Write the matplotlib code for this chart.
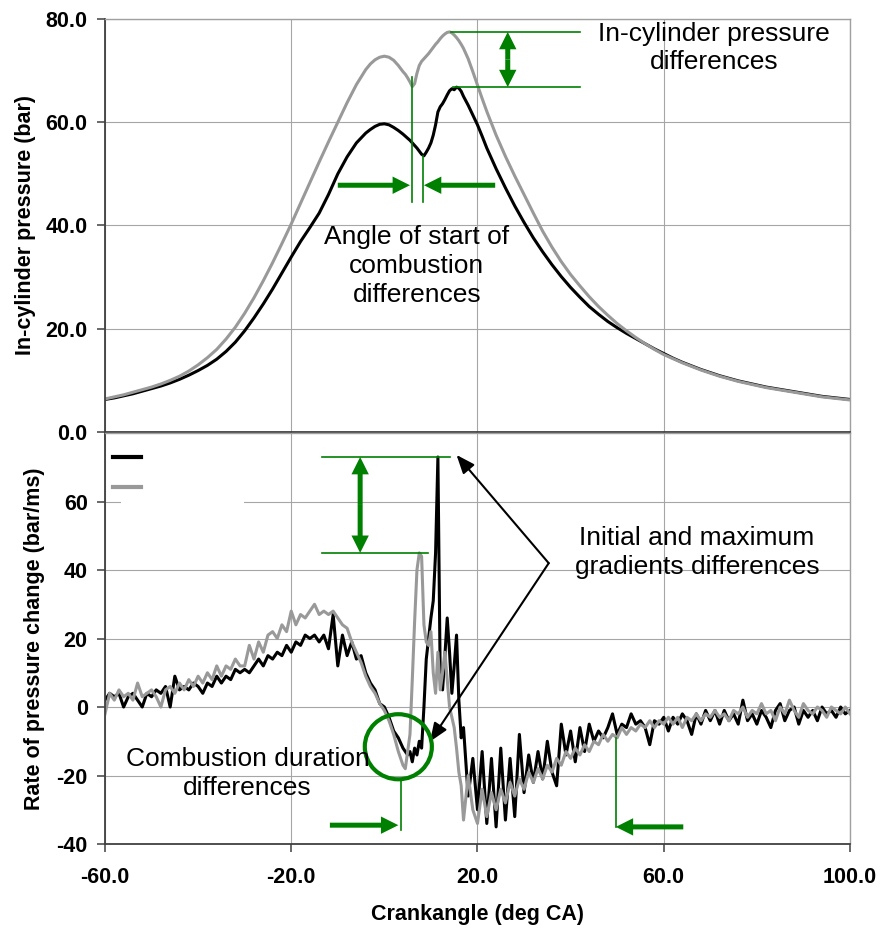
import numpy as np
import matplotlib
matplotlib.use('Agg')
import matplotlib.pyplot as plt
from matplotlib.patches import Ellipse, Rectangle
from matplotlib.lines import Line2D

plt.rcParams['font.family'] = ['Liberation Sans', 'DejaVu Sans']

# ---- in-cylinder pressure (bar) ----
p_angle = np.concatenate([np.arange(-60, -4, 2), np.arange(-4, 4, 1),
                          np.arange(4, 17, 0.5), np.arange(17, 22, 1),
                          np.arange(22, 101, 2)])
p_black = [6.3, 6.6, 7.0, 7.4, 7.9, 8.4, 8.9, 9.5, 10.2, 11.0,
           11.9, 12.9, 14.1, 15.6, 17.4, 19.6, 22.1, 24.8, 27.7, 30.8,
           33.9, 36.9, 39.6, 42.4, 46.0, 50.0, 53.3, 56.0,
           57.9, 58.6, 59.2, 59.6, 59.7, 59.5, 59.0, 58.4,
           57.7, 57.3, 56.9, 56.5, 56.0, 55.5, 55.0, 54.4, 53.8, 53.5,
           54.2, 55.0, 56.0, 57.5, 59.5, 62.0, 63.0, 63.6, 64.4, 65.3,
           66.1, 66.5, 66.3, 66.8, 66.6, 66.0,
           65.0, 63.3, 61.4, 59.5, 57.3,
           55.0, 51.0, 47.3, 43.8, 40.6, 37.6, 34.9, 32.4, 30.1, 28.0,
           26.1, 24.3, 22.8, 21.4, 20.2, 19.1, 18.1, 17.1, 16.1, 15.2,
           14.3, 13.5, 12.8, 12.1, 11.5, 10.9, 10.4, 9.9, 9.5, 9.1,
           8.7, 8.4, 8.1, 7.8, 7.5, 7.2, 6.9, 6.7, 6.5, 6.3]
p_grey = [6.4, 6.8, 7.2, 7.7, 8.2, 8.7, 9.3, 10.0, 10.8, 11.8,
          13.0, 14.4, 16.0, 18.0, 20.3, 23.0, 26.0, 29.3, 32.8, 36.5,
          40.3, 44.3, 48.3, 52.3, 56.2, 60.0, 63.8, 67.3,
          70.2, 71.3, 72.1, 72.6, 72.8, 72.6, 72.0, 71.0,
          69.8, 69.3, 68.6, 67.8, 66.9, 67.5, 69.5, 71.0, 71.8, 72.3,
          72.8, 73.3, 73.9, 74.5, 75.1, 75.6, 76.2, 76.7, 77.1, 77.4,
          77.5, 77.3, 76.9, 76.4, 75.8, 75.1,
          74.3, 72.3, 69.8, 67.2, 64.6,
          62.1, 57.5, 53.4, 49.6, 46.0, 42.4, 38.9, 35.8, 33.0, 30.5,
          28.3, 26.2, 24.3, 22.6, 21.0, 19.6, 18.3, 17.1, 16.0, 15.0,
          14.2, 13.4, 12.7, 12.0, 11.4, 10.8, 10.3, 9.8, 9.4, 9.0,
          8.6, 8.3, 8.0, 7.7, 7.4, 7.1, 6.8, 6.6, 6.4, 6.2]

# ---- rate of pressure change (bar/ms) ----
r_angle = np.concatenate([np.arange(-60, 5, 1), np.arange(4.5, 17.5, 0.5),
                          np.arange(18, 101, 1)])
r_black = [2, 4, 3, 4, 0, 3, 4, 2, 0, 4,
           3, 5, 4, 6, 0, 9, 5, 6, 5, 7,
           6, 4, 7, 6, 9, 7, 9, 8, 11, 10,
           11, 10, 12, 14, 12, 15, 14, 16, 15, 18,
           16, 19, 18, 21, 20, 21, 19, 21, 17, 27,
           12, 21, 15, 19, 14, 15, 10, 7, 5, 1,
           0, -3, -7, -9, -12,
           -13, -14, -13, -16, -12, -14, -10, -12, 0, 14,
           20, 26, 31, 45, 73, 8, 5, 15, 26, 16,
           4, 12, 21, 2, -9, -6,
           -26, -15, -30, -13, -34, -15, -35, -12, -33, -15,
           -32, -8, -25, -14, -22, -13, -21, -10, -19, -23,
           -5, -14, -7, -16, -6, -13, -5, -10, -7, -9,
           -6, -2, -8, -5, -6, -2, -5, -4, -6, -11,
           -4, -5, -3, -7, -3, -5, -2, -4, -8, -2,
           -5, -1, -4, -1, -5, -1, -4, -2, -5, 2,
           -4, -2, -5, -1, -3, -6, -1, 1, -4, -1,
           0, -5, -1, -3, -1, -4, 0, -2, -1, -3,
           0, -2, -1]
r_grey = [-2, 4, 2, 5, 3, 4, 2, 7, 3, 4,
          5, 3, 0, 5, 6, 4, 7, 5, 8, 6,
          9, 7, 10, 8, 12, 9, 12, 11, 14, 12,
          12, 18, 14, 19, 16, 21, 22, 20, 24, 22,
          28, 24, 27, 26, 28, 30, 27, 28, 27, 28,
          26, 24, 23, 19, 16, 13, 9, 6, 4, 1,
          -1, -4, -8, -13, -17,
          -18, -13, -8, 8, 25, 40, 45, 44, 24, 19,
          18, 22, 10, 4, 16, 5, 10, 16, 8, 0,
          -3, -6, -12, -19, -23, -33,
          -20, -30, -34, -24, -32, -25, -30, -24, -28, -22,
          -26, -21, -24, -19, -22, -18, -21, -17, -19, -15,
          -17, -13, -15, -12, -14, -11, -13, -10, -11, -8,
          -10, -8, -9, -6, -8, -6, -7, -5, -6, -4,
          -6, -4, -5, -3, -5, -3, -6, -3, -4, -2,
          -4, -2, -3, -1, -3, -2, -4, -1, -2, 0,
          -3, -1, -2, 1, -2, -1, -4, 0, -2, 2,
          -1, -3, 1, -1, -2, 0, -1, -3, 0, -1,
          -2, 0, -2]

x_ticks = [-60, -20, 20, 60, 100]
p_ticks = [0, 20, 40, 60, 80]
r_ticks = [-40, -20, 0, 20, 40, 60]

GREEN = '#008000'
GREY = '#999999'
DARK = '#404040'


def style_axes(ax):
    ax.set_xlim(-60, 100)
    ax.set_xticks(x_ticks)
    ax.grid(True, color='#a6a6a6', lw=0.8)
    for side in ['left', 'bottom']:
        ax.spines[side].set_color(DARK)
        ax.spines[side].set_linewidth(1.3)
    for side in ['top', 'right']:
        ax.spines[side].set_color('#a0a0a0')
        ax.spines[side].set_linewidth(1.0)
    ax.tick_params(direction='out', length=5.5, width=1.1, color=DARK)
    ax.tick_params(axis='y', pad=7)
    ax.tick_params(axis='x', pad=11)


def block_arrow(ax, tail, tip):
    ax.annotate('', xy=tip, xytext=tail,
                arrowprops=dict(arrowstyle='simple,head_length=1.25,head_width=1.25,tail_width=0.36',
                                mutation_scale=10, color=GREEN, lw=0,
                                shrinkA=0, shrinkB=0))


def pointer(ax, tail, tip):
    ax.annotate('', xy=tip, xytext=tail,
                arrowprops=dict(arrowstyle='-|>,head_length=0.75,head_width=0.3',
                                mutation_scale=15, color='black', lw=1.5,
                                shrinkA=0, shrinkB=0))


fig = plt.figure(figsize=(8.83, 9.32), dpi=100)
ax1 = fig.add_axes([0.1189, 0.5365, 0.8437, 0.4431])
ax2 = fig.add_axes([0.1189, 0.0944, 0.8437, 0.4410])

# ---------- top: pressure ----------
style_axes(ax1)
ax1.plot(p_angle, p_black, color='black', lw=2.2)
ax1.plot(p_angle, p_grey, color=GREY, lw=2.2)
ax1.set_ylim(0, 80)
ax1.set_yticks(p_ticks, labels=[f'{v:.1f}' for v in p_ticks],
               fontsize=15.5, fontweight='bold')
ax1.tick_params(axis='x', labelbottom=False)
ax1.set_ylabel('In-cylinder pressure (bar)', fontsize=15.5, fontweight='bold')
ax1.yaxis.set_label_coords(-0.092, 0.5)

# peak pressure difference markers
g_peak, b_peak = max(p_grey), max(p_black)
ax1.plot([14.3, 42.0], [g_peak, g_peak], color=GREEN, lw=1.2)
ax1.plot([14.7, 42.0], [b_peak, b_peak], color=GREEN, lw=1.2)
mid = (g_peak + b_peak) / 2
block_arrow(ax1, (26.5, mid), (26.5, g_peak))
block_arrow(ax1, (26.5, mid), (26.5, b_peak))
ax1.text(70.8, 74.4, 'In-cylinder pressure\ndifferences', fontsize=19,
         ha='center', va='center', linespacing=1.25)

# start of combustion markers
ax1.plot([5.9, 5.9], [68.7, 44.5], color=GREEN, lw=1.2)
ax1.plot([8.2, 8.2], [53.5, 44.5], color=GREEN, lw=1.2)
block_arrow(ax1, (-10.0, 47.8), (5.5, 47.8))
block_arrow(ax1, (23.8, 47.8), (8.5, 47.8))
ax1.text(6.95, 32.2, 'Angle of start of\ncombustion\ndifferences', fontsize=19,
         ha='center', va='center', linespacing=1.25)

# ---------- bottom: rate of pressure change ----------
style_axes(ax2)
ax2.plot(r_angle, r_black, color='black', lw=2.2)
ax2.plot(r_angle, r_grey, color=GREY, lw=2.2)
ax2.set_ylim(-40, 80)
ax2.set_yticks(r_ticks, labels=[str(v) for v in r_ticks],
               fontsize=15.5, fontweight='bold')
ax2.set_xticks(x_ticks, labels=[f'{v:.1f}' for v in x_ticks],
               fontsize=15.5, fontweight='bold')
ax2.set_ylabel('Rate of pressure change (bar/ms)', fontsize=15.5, fontweight='bold')
ax2.yaxis.set_label_coords(-0.081, 0.5)
ax2.set_xlabel('Crankangle (deg CA)', fontsize=15.5, fontweight='bold')
ax2.xaxis.set_label_coords(0.5, -0.146)

# legend keys without text, on a white patch that hides the 60 gridline
ax2.add_patch(Rectangle((0.0215, 0.81), 0.165, 0.19, transform=ax2.transAxes,
                        fc='white', ec='none', zorder=1.6))
ax2.legend([Line2D([], [], color='black', lw=3), Line2D([], [], color=GREY, lw=3)],
           [' ', ' '], loc='upper left', bbox_to_anchor=(0.0107, 0.957),
           frameon=False, handlelength=2.0, fontsize=10, borderaxespad=0,
           borderpad=0, labelspacing=1.15)

# gradient difference markers
rb_peak, rg_peak = max(r_black), max(r_grey)
ax2.plot([-13.5, 14.2], [rb_peak, rb_peak], color=GREEN, lw=1.2)
ax2.plot([-13.5, 9.4], [rg_peak, rg_peak], color=GREEN, lw=1.2)
rmid = (rb_peak + rg_peak) / 2
block_arrow(ax2, (-5.2, rmid), (-5.2, rb_peak))
block_arrow(ax2, (-5.2, rmid), (-5.2, rg_peak))
pointer(ax2, (35.3, 42.0), (15.5, 73.6))
pointer(ax2, (35.3, 42.0), (9.8, -10.1))
ax2.text(67.15, 45.1, 'Initial and maximum\ngradients differences', fontsize=19,
         ha='center', va='center', linespacing=1.25)

# combustion duration markers
ax2.add_patch(Ellipse((3.0, -11.6), 14.4, 19.0, fill=False, ec=GREEN, lw=3, zorder=3))
ax2.plot([3.6, 3.6], [-21.3, -35.8], color=GREEN, lw=1.2)
block_arrow(ax2, (-11.7, -34.5), (3.0, -34.5))
ax2.plot([49.7, 49.7], [-9.0, -35.0], color=GREEN, lw=1.2)
block_arrow(ax2, (64.2, -35.0), (49.7, -35.0))
ax2.text(-29.4, -19.5, 'Combustion duration\ndifferences', fontsize=19,
         ha='center', va='center', linespacing=1.25)

fig.savefig('out.png', dpi=100)
